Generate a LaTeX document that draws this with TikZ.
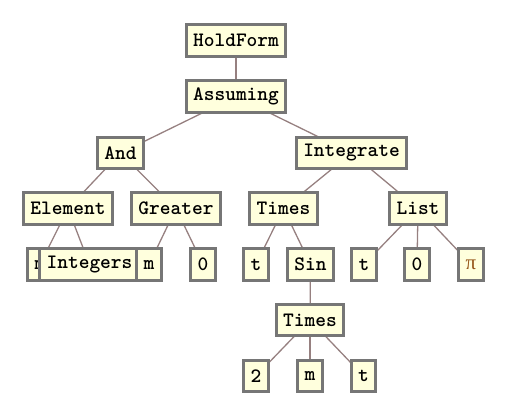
\documentclass[tikz,border=0pt]{standalone}
\usepackage{fontspec}
\newfontfamily\piserif{Liberation Serif}
\newfontfamily\tnfont{Latin Modern Mono Light}
\definecolor{boxfill}{RGB}{255,255,221}
\definecolor{boxline}{RGB}{118,118,118}
\definecolor{edgecol}{RGB}{150,128,128}
\definecolor{picol}{RGB}{150,85,25}
\tikzset{
  tn/.style={draw=boxline, fill=boxfill, line width=3.2bp, inner xsep=7bp, inner ysep=0bp,
    minimum height=31.5bp, font=\fontsize{20.5}{22}\selectfont\tnfont\bfseries},
  ed/.style={draw=edgecol, line width=1.3bp}
}
\begin{document}
\begin{tikzpicture}[x=1bp,y=-1bp]
\useasboundingbox (0,0) rectangle (509,409);
% edges first
\coordinate (cHF) at (236,40.5);
\coordinate (cAs) at (236,96.5);
\coordinate (cAnd) at (120.5,153);
\coordinate (cInt) at (351.5,153);
\coordinate (cEl) at (68,208.5);
\coordinate (cGr) at (176,208.5);
\coordinate (cTi) at (283.5,208.5);
\coordinate (cLi) at (418,208.5);
\coordinate (cm1) at (40,264.5);
\coordinate (cIn) at (89.5,264.5);
\coordinate (cm2) at (149,264.5);
\coordinate (c01) at (203,264.5);
\coordinate (ct1) at (256,264.5);
\coordinate (cSi) at (310.5,264.5);
\coordinate (ct2) at (364,264.5);
\coordinate (c02) at (417,264.5);
\coordinate (cpi) at (471,264.5);
\coordinate (cTi2) at (310,320);
\coordinate (c2) at (256,376);
\coordinate (cm3) at (310,376);
\coordinate (ct3) at (363.5,376);
\draw[ed] (cHF) -- (cAs);
\draw[ed] (cAs) -- (cAnd);
\draw[ed] (cAs) -- (cInt);
\draw[ed] (cAnd) -- (cEl);
\draw[ed] (cAnd) -- (cGr);
\draw[ed] (cEl) -- (cm1);
\draw[ed] (cEl) -- (cIn);
\draw[ed] (cGr) -- (cm2);
\draw[ed] (cGr) -- (c01);
\draw[ed] (cInt) -- (cTi);
\draw[ed] (cInt) -- (cLi);
\draw[ed] (cTi) -- (ct1);
\draw[ed] (cTi) -- (cSi);
\draw[ed] (cLi) -- (ct2);
\draw[ed] (cLi) -- (c02);
\draw[ed] (cLi) -- (cpi);
\draw[ed] (cSi) -- (cTi2);
\draw[ed] (cTi2) -- (c2);
\draw[ed] (cTi2) -- (cm3);
\draw[ed] (cTi2) -- (ct3);
% nodes
\node[tn] (HF) at (cHF) {HoldForm};
\node[tn] (As) at (cAs) {Assuming};
\node[tn] (And) at (cAnd) {And};
\node[tn] (Int) at (cInt) {Integrate};
\node[tn] (El) at (cEl) {Element};
\node[tn] (Gr) at (cGr) {Greater};
\node[tn] (Ti) at (cTi) {Times};
\node[tn] (Li) at (cLi) {List};
\node[tn] (m1) at (cm1) {m};
\node[tn] (In) at (cIn) {Integers};
\node[tn] (m2) at (cm2) {m};
\node[tn] (z1) at (c01) {0};
\node[tn] (t1) at (ct1) {t};
\node[tn] (Si) at (cSi) {Sin};
\node[tn] (t2) at (ct2) {t};
\node[tn] (z2) at (c02) {0};
\node[tn, text=picol, font=\fontsize{21}{22}\selectfont\piserif, minimum width=22.8bp] (pi) at (cpi) {π};
\node[tn] (Ti2) at (cTi2) {Times};
\node[tn] (two) at (c2) {2};
\node[tn] (m3) at (cm3) {m};
\node[tn] (t3) at (ct3) {t};
\end{tikzpicture}
\end{document}
